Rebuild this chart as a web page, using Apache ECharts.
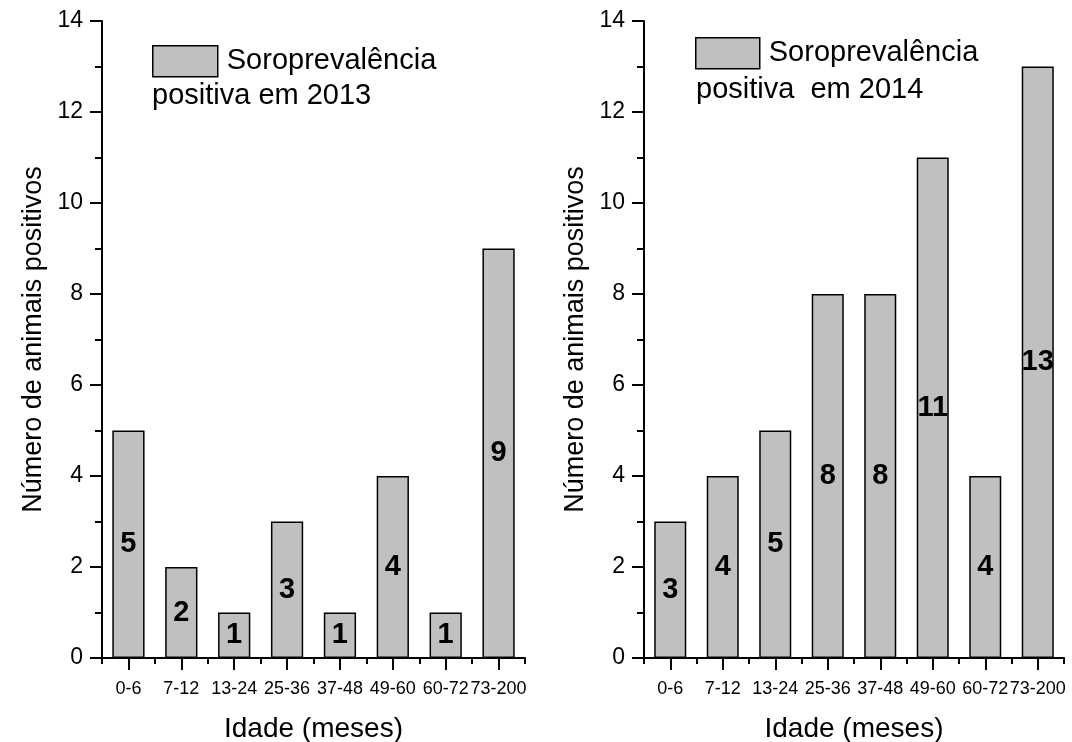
<!DOCTYPE html>
<html>
<head>
<meta charset="utf-8">
<script src="https://cdn.jsdelivr.net/npm/echarts@6/dist/echarts.min.js"></script>
<style>
html,body{margin:0;padding:0;background:#fff;}
#chart{width:1072px;height:742px;}
</style>
</head>
<body>
<div id="chart"></div>
<script>
var categories = ['0-6','7-12','13-24','25-36','37-48','49-60','60-72','73-200'];
var values2013 = [5, 2, 1, 3, 1, 4, 1, 9];
var values2014 = [3, 4, 5, 8, 8, 11, 4, 13];
var yTicks = [0, 2, 4, 6, 8, 10, 12, 14];
var seriesName2013 = 'Soroprevalência positiva em 2013';
var seriesName2014 = 'Soroprevalência positiva  em 2014';
var legendLine1 = 'Soroprevalência';
var legendLine2_2013 = 'positiva em 2013';
var legendLine2_2014 = 'positiva  em 2014';
var xName = 'Idade (meses)';
var yName = 'Número de animais positivos';

var FONT = '"Liberation Sans", Arial, sans-serif';
var chart = echarts.init(document.getElementById('chart'), null, {renderer:'canvas'});

function mainX(gi){
  return {
    type:'category', gridIndex:gi, data:categories, position:'bottom',
    name:xName, nameLocation:'middle', nameGap:57,
    nameTextStyle:{fontFamily:FONT, fontSize:28, color:'#000'},
    axisLine:{show:true, onZero:false, lineStyle:{color:'#000', width:2}},
    axisTick:{show:true, alignWithLabel:true, length:12, inside:false, lineStyle:{color:'#000', width:2}},
    axisLabel:{show:true, margin:22, fontFamily:FONT, fontSize:18, color:'#000', interval:0, hideOverlap:false},
    splitLine:{show:false}
  };
}
function minorX(gi){
  return {
    type:'category', gridIndex:gi, data:categories, position:'bottom',
    axisLine:{show:false},
    axisTick:{show:true, length:6, lineStyle:{color:'#000', width:2}},
    axisLabel:{show:false},
    splitLine:{show:false}
  };
}
function yAx(gi){
  return {
    type:'value', gridIndex:gi, min:yTicks[0], max:yTicks[yTicks.length-1], interval:2,
    name:yName, nameLocation:'middle', nameGap:55,
    nameTextStyle:{fontFamily:FONT, fontSize:27, color:'#000'},
    axisLine:{show:true, lineStyle:{color:'#000', width:2}},
    axisTick:{show:true, length:12, lineStyle:{color:'#000', width:2}},
    minorTick:{show:true, splitNumber:2, length:7, lineStyle:{color:'#000', width:2}},
    axisLabel:{margin:19, fontFamily:FONT, fontSize:23, color:'#000'},
    splitLine:{show:false}
  };
}
function barSeries(name, xi, yi, data){
  return {
    type:'bar', name:name, xAxisIndex:xi, yAxisIndex:yi, data:data,
    barWidth:'61%',
    itemStyle:{color:'#c0c0c0', borderColor:'#000', borderWidth:1.5},
    label:{show:true, position:'inside', fontFamily:FONT, fontWeight:'bold', fontSize:29, color:'#000'},
    emphasis:{disabled:true}
  };
}
function legendFor(name, left, top, w, h){
  return {
    data:[name], left:left, top:top, orient:'horizontal', padding:0,
    itemWidth:w, itemHeight:h, icon:'rect',
    itemStyle:{color:'#c0c0c0', borderColor:'#000', borderWidth:1.5},
    formatter:function(){ return legendLine1; },
    textStyle:{fontFamily:FONT, fontSize:29, color:'#000', padding:[0,0,0,4]},
    selectedMode:false
  };
}

var option = {
  animation:false,
  backgroundColor:'#fff',
  grid:[
    {left:102, top:21, width:423, height:637, outerBoundsMode:'none', containLabel:false},
    {left:644, top:21, width:420, height:637, outerBoundsMode:'none', containLabel:false}
  ],
  xAxis:[mainX(0), minorX(0), mainX(1), minorX(1)],
  yAxis:[yAx(0), yAx(1)],
  legend:[
    legendFor(seriesName2013, 152, 45, 65, 31),
    legendFor(seriesName2014, 695, 37, 64, 31)
  ],
  title:[
    {text:legendLine2_2013, left:152, top:81, padding:0, textStyle:{fontFamily:FONT, fontSize:29, fontWeight:'normal', color:'#000'}},
    {text:legendLine2_2014, left:696, top:75, padding:0, textStyle:{fontFamily:FONT, fontSize:29, fontWeight:'normal', color:'#000'}}
  ],
  series:[
    barSeries(seriesName2013, 0, 0, values2013),
    barSeries(seriesName2014, 2, 1, values2014)
  ]
};
chart.setOption(option);
</script>
</body>
</html>
